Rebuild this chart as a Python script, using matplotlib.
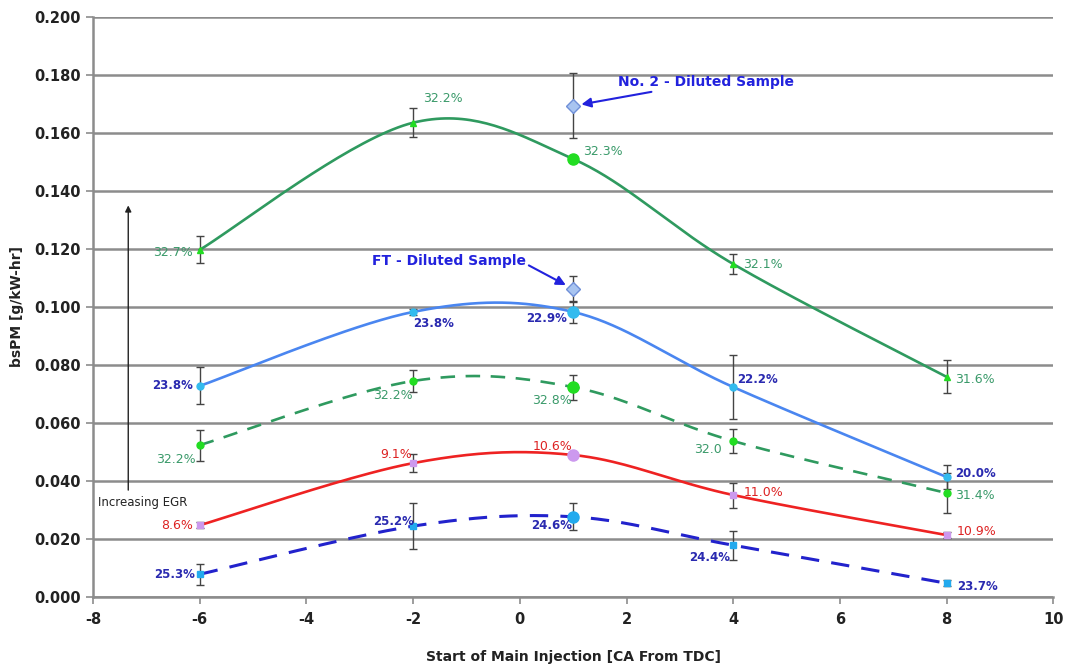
import numpy as np
import matplotlib
matplotlib.use("Agg")
import matplotlib.pyplot as plt

plt.rcParams["axes.unicode_minus"] = False

# valores
x = [-6, -2, 1, 4, 8]

g_sol = [0.1197, 0.1635, 0.151, 0.1148, 0.0759]
g_sol_err = [0.0047, 0.005, 0.001, 0.0035, 0.0057]
g_sol_lab = ["32.7%", "32.2%", "32.3%", "32.1%", "31.6%"]

b_sol = [0.0728, 0.0983, 0.0983, 0.0724, 0.0414]
b_sol_err = [0.0064, 0.001, 0.0037, 0.011, 0.0042]
b_sol_lab = ["23.8%", "23.8%", "22.9%", "22.2%", "20.0%"]

g_das = [0.0524, 0.0745, 0.0724, 0.0538, 0.0359]
g_das_err = [0.0053, 0.0037, 0.0043, 0.0042, 0.0069]
g_das_lab = ["32.2%", "32.2%", "32.8%", "32.0", "31.4%"]

r_sol = [0.0248, 0.0462, 0.049, 0.0352, 0.0214]
r_sol_err = [0.001, 0.003, 0.001, 0.0043, 0.001]
r_sol_lab = ["8.6%", "9.1%", "10.6%", "11.0%", "10.9%"]

b_das = [0.0079, 0.0245, 0.0277, 0.0179, 0.0048]
b_das_err = [0.0036, 0.0079, 0.0047, 0.005, 0.001]
b_das_lab = ["25.3%", "25.2%", "24.6%", "24.4%", "23.7%"]

# muestras diluidas en x = 1
dil_x = [1, 1]
dil_y = [0.1693, 0.1062]
dil_err = [0.0112, 0.0046]


def suavizar(xs, ys, n=40):
    # curva tipo Excel: bezier cubica por tramos
    p = np.column_stack([xs, ys]).astype(float)
    p = np.vstack([p[0], p, p[-1]])
    out = []
    t = np.linspace(0, 1, n)[:, None]
    for i in range(1, len(p) - 2):
        p0, p3 = p[i], p[i + 1]
        c1 = p0 + (p[i + 1] - p[i - 1]) / 6
        c2 = p3 - (p[i + 2] - p[i]) / 6
        seg = ((1 - t) ** 3) * p0 + 3 * ((1 - t) ** 2) * t * c1 \
            + 3 * (1 - t) * t ** 2 * c2 + t ** 3 * p3
        out.append(seg)
    out = np.vstack(out)
    return out[:, 0], out[:, 1]


fig = plt.figure(figsize=(10.67, 6.71), dpi=100)
ax = fig.add_axes([0.0872, 0.110, 0.9, 0.865])
ax.set_xlim(-8, 10)
ax.set_ylim(0, 0.2)

series = [
    # y, err, labels, line color, style, lw, marker color, marker, label color, weight, offsets
    (g_sol, g_sol_err, g_sol_lab, "#2f9a5f", "-", 1.9, "#22dd22", "^", "#3a9a6a", "normal",
     [(-7, -3, "right"), (10, 24, "left"), (10, 7, "left"), (10, 0, "left"), (8, -3, "left")]),
    (b_sol, b_sol_err, b_sol_lab, "#4a86f0", "-", 1.9, "#33bbee", "o", "#2a2ab0", "bold",
     [(-7, 0, "right"), (0, -12, "left"), (-6, -7, "right"), (4, 8, "left"), (8, 4, "left")]),
    (g_das, g_das_err, g_das_lab, "#2f9a5f", (0, (5.5, 4)), 1.9, "#22dd22", "o", "#3a9a6a", "normal",
     [(-4, -14, "right"), (0, -15, "right"), (-1, -13, "right"), (-11, -8, "right"), (8, -2, "left")]),
    (r_sol, r_sol_err, r_sol_lab, "#ee2222", "-", 1.9, "#cc99ee", "s", "#dd2222", "normal",
     [(-7, 0, "right"), (-1, 9, "right"), (-1, 8, "right"), (10, 3, "left"), (10, 4, "left")]),
    (b_das, b_das_err, b_das_lab, "#2222cc", (0, (6, 4)), 2.2, "#22aaee", "s", "#2a2ab0", "bold",
     [(-5, 0, "right"), (1, 5, "right"), (-1, -9, "right"), (-3, -12, "right"), (10, -3, "left")]),
]

for y, err, labs, lc, ls, lw, mc, mk, tc, fw, offs in series:
    sx, sy = suavizar(x, y)
    ax.plot(sx, sy, color=lc, ls=ls, lw=lw, zorder=3)
    ax.errorbar(x, y, yerr=err, fmt="none", ecolor="#444444", elinewidth=1.0,
                capsize=3, capthick=1.0, zorder=4)
    for xi, yi in zip(x, y):
        big = xi == 1
        ax.plot(xi, yi, marker="o" if big else mk, ms=8 if big else 5,
                mfc=mc, mec=mc, ls="none", zorder=5)
    for xi, yi, lab, (dx, dy, ha) in zip(x, y, labs, offs):
        ax.annotate(lab, (xi, yi), xytext=(dx, dy), textcoords="offset pixels",
                    ha=ha, va="center", color=tc, fontsize=8.5 if fw == "bold" else 9,
                    fontweight=fw, family="DejaVu Sans", zorder=6)

# muestras diluidas
ax.errorbar(dil_x, dil_y, yerr=dil_err, fmt="D", ms=7, mfc="#a8c4f0", mec="#6f8fd8",
            ecolor="#444444", elinewidth=1.0, capsize=3, capthick=1.0, zorder=6)

ax.annotate("No. 2 - Diluted Sample", xy=(dil_x[0], dil_y[0]), xytext=(1.84, 0.1775),
            color="#2222dd", fontsize=10, fontweight="bold", ha="left", va="center",
            arrowprops=dict(arrowstyle="-|>", color="#2222dd", lw=1.5,
                            shrinkA=0, shrinkB=6, mutation_scale=14),
            zorder=7)
ax.annotate("FT - Diluted Sample", xy=(dil_x[1], dil_y[1]), xytext=(-2.77, 0.1158),
            color="#2222dd", fontsize=10, fontweight="bold", ha="left", va="center",
            arrowprops=dict(arrowstyle="-|>", color="#2222dd", lw=1.5,
                            shrinkA=0, shrinkB=6, mutation_scale=14, relpos=(1.0, 0.3)),
            zorder=7)

# flecha de EGR
ax.annotate("", xy=(-7.34, 0.1350), xytext=(-7.34, 0.0369),
            arrowprops=dict(arrowstyle="-|>", color="#222222", lw=1.0,
                            shrinkA=0, shrinkB=0, mutation_scale=9))
ax.text(-7.9, 0.0328, "Increasing EGR", fontsize=8.5, color="#222222",
        ha="left", va="center", family="DejaVu Sans")

ax.set_yticks(np.arange(0, 0.201, 0.02))
ax.set_xticks(np.arange(-8, 10.1, 2))
ax.set_yticklabels(["%.3f" % v for v in np.arange(0, 0.201, 0.02)])
ax.yaxis.grid(True, color="#8c8c8c", lw=1.8)
ax.set_axisbelow(True)
for s in ["top", "right"]:
    ax.spines[s].set_visible(False)
for s in ["left", "bottom"]:
    ax.spines[s].set_color("#8c8c8c")
    ax.spines[s].set_linewidth(1.8)
ax.tick_params(axis="both", colors="#8c8c8c", length=5, width=1.2,
               labelcolor="#222222", labelsize=10.5)
ax.tick_params(axis="x", pad=6)
for t in ax.get_xticklabels() + ax.get_yticklabels():
    t.set_fontweight("bold")
    t.set_family("DejaVu Sans")

ax.set_xlabel("Start of Main Injection [CA From TDC]", fontsize=10, fontweight="bold",
              color="#222222", labelpad=16)
ax.set_ylabel("bsPM [g/kW-hr]", fontsize=10, fontweight="bold", color="#222222",
              labelpad=8)

fig.savefig("out.png", dpi=100)
